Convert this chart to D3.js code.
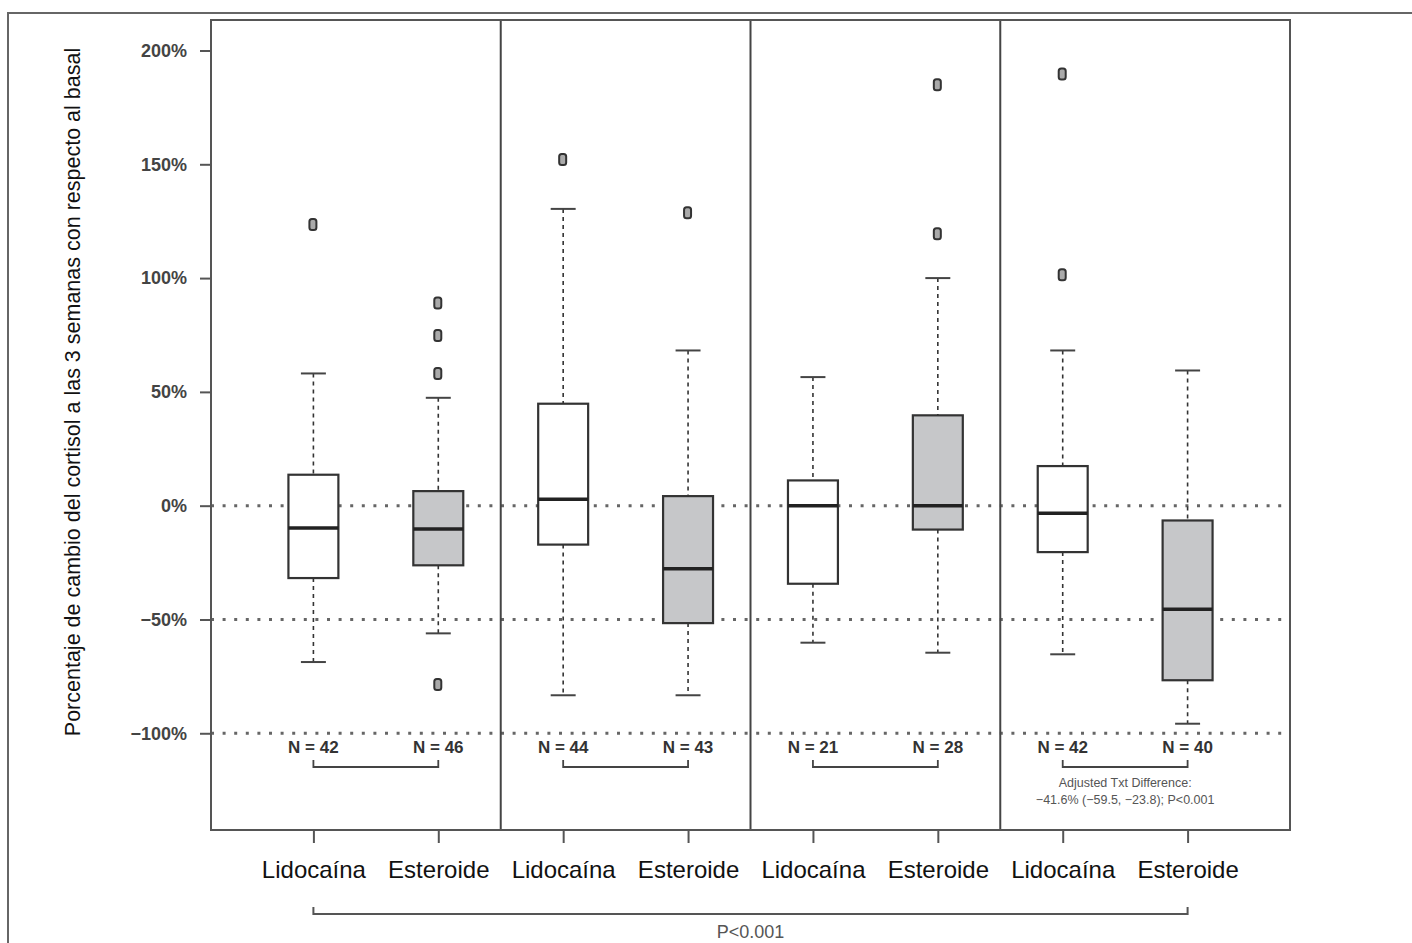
<!DOCTYPE html>
<html><head><meta charset="utf-8">
<script src="https://cdn.jsdelivr.net/npm/d3@7/dist/d3.min.js"></script>
<style>
html,body{margin:0;padding:0;background:#fff;}
svg{display:block;font-family:"Liberation Sans",Arial,Helvetica,sans-serif;}
</style></head>
<body>
<svg id="chart" width="1412" height="943"></svg>
<script>
// ---- data ----
const categories = ["Lidocaína","Esteroide","Lidocaína","Esteroide","Lidocaína","Esteroide","Lidocaína","Esteroide"];
const nLabels = ["N = 42","N = 46","N = 44","N = 43","N = 21","N = 28","N = 42","N = 40"];
const whiskerLow  = [-68.7, -56.1, -83.3, -83.3, -60.2, -64.6, -65.3, -95.8];
const q1          = [-31.8, -26.2, -17.1, -51.6, -34.3, -10.5, -20.4, -76.7];
const median      = [ -9.8, -10.3,   2.8, -27.7,   0.0,   0.0,  -3.3, -45.5];
const q3          = [ 13.6,   6.4,  44.8,   4.2,  11.1,  39.7,  17.4,  -6.5];
const whiskerHigh = [ 58.1,  47.4, 130.4,  68.2,  56.5, 100.0,  68.2,  59.4];
const outliers    = [[123.5],[89.0,74.8,58.1,-78.6],[152.1],[128.7],[],[184.9,119.5],[189.7,101.5],[]];
const treatment   = ["lido","est","lido","est","lido","est","lido","est"];
const yTicks = [-100,-50,0,50,100,150,200];
const refLines = [0,-50,-100];
const panelDividers = [2.5,4.5,6.5];
const yTitle = "Porcentaje de cambio del cortisol a las 3 semanas con respecto al basal";
const annotation = ["Adjusted Txt Difference:", "\u221241.6% (\u221259.5, \u221223.8); P<0.001"];
const overallP = "P<0.001";

// ---- layout ----
const svg = d3.select("#chart");
const L = 211, R = 1290, T = 20, B = 830;
const x = d3.scaleLinear().domain([0.18, 8.82]).range([L, R]);
const y = d3.scaleLinear().domain([-142.5, 213.4]).range([B, T]);
const pos = categories.map((d,i)=>i+1);
const boxW = x(1.4)-x(1);   // 0.8 units
const capW = x(1.2)-x(1);   // 0.4 units
const fmtPct = d => (d<0 ? "\u2212"+Math.abs(d) : d) + "%";

// outer frame (left + top)
svg.append("path").attr("d","M8,943 L8,13 L1412,13").attr("fill","none").attr("stroke","#666").attr("stroke-width",2);

// reference dotted lines
svg.append("g").selectAll("line").data(refLines).join("line")
  .attr("x1",L).attr("x2",R).attr("y1",d=>y(d)).attr("y2",d=>y(d))
  .attr("stroke","#666").attr("stroke-width",3).attr("stroke-dasharray","3,8.6");

// panel dividers
svg.append("g").selectAll("line").data(panelDividers).join("line")
  .attr("x1",d=>x(d)).attr("x2",d=>x(d)).attr("y1",T).attr("y2",B)
  .attr("stroke","#444").attr("stroke-width",2);

// boxes
const g = svg.append("g").selectAll("g").data(pos).join("g");
g.append("line").attr("x1",d=>x(d)).attr("x2",d=>x(d))
  .attr("y1",(d,i)=>y(whiskerHigh[i])).attr("y2",(d,i)=>y(q3[i]))
  .attr("stroke","#333").attr("stroke-width",1.6).attr("stroke-dasharray","4,4");
g.append("line").attr("x1",d=>x(d)).attr("x2",d=>x(d))
  .attr("y1",(d,i)=>y(q1[i])).attr("y2",(d,i)=>y(whiskerLow[i]))
  .attr("stroke","#333").attr("stroke-width",1.6).attr("stroke-dasharray","4,4");
g.append("line").attr("x1",d=>x(d)-capW/2).attr("x2",d=>x(d)+capW/2)
  .attr("y1",(d,i)=>y(whiskerHigh[i])).attr("y2",(d,i)=>y(whiskerHigh[i]))
  .attr("stroke","#444").attr("stroke-width",2);
g.append("line").attr("x1",d=>x(d)-capW/2).attr("x2",d=>x(d)+capW/2)
  .attr("y1",(d,i)=>y(whiskerLow[i])).attr("y2",(d,i)=>y(whiskerLow[i]))
  .attr("stroke","#444").attr("stroke-width",2);
g.append("rect").attr("x",d=>x(d)-boxW/2).attr("width",boxW)
  .attr("y",(d,i)=>y(q3[i])).attr("height",(d,i)=>y(q1[i])-y(q3[i]))
  .attr("fill",(d,i)=>treatment[i]==="est"?"#c6c7c9":"#ffffff")
  .attr("stroke","#333").attr("stroke-width",2.2);
g.append("line").attr("x1",d=>x(d)-boxW/2).attr("x2",d=>x(d)+boxW/2)
  .attr("y1",(d,i)=>y(median[i])).attr("y2",(d,i)=>y(median[i]))
  .attr("stroke","#222").attr("stroke-width",3.5);
g.each(function(d,i){
  d3.select(this).selectAll("rect.out").data(outliers[i]).join("rect").attr("class","out")
    .attr("x",x(d)-4).attr("y",v=>y(v)-5.5).attr("width",7).attr("height",11).attr("rx",2.5)
    .attr("fill","#aaa").attr("stroke","#333").attr("stroke-width",2);
});

// plot frame
svg.append("rect").attr("x",L).attr("y",T).attr("width",R-L).attr("height",B-T)
  .attr("fill","none").attr("stroke","#555").attr("stroke-width",2);

// y axis
const yAxis = d3.axisLeft(y).tickValues(yTicks).tickSize(11).tickPadding(13).tickFormat(fmtPct);
const ya = svg.append("g").attr("transform",`translate(${L},0)`).call(yAxis);
ya.select(".domain").remove();
ya.selectAll(".tick line").attr("stroke","#555").attr("stroke-width",2);
ya.selectAll(".tick text").attr("fill","#444").attr("font-size",18).attr("font-weight","bold")
  .attr("font-family","'Liberation Sans',Arial,sans-serif");

// x axis
const xAxis = d3.axisBottom(x).tickValues(pos).tickSize(13).tickPadding(18).tickFormat((d,i)=>categories[i]);
const xa = svg.append("g").attr("transform",`translate(0,${B})`).call(xAxis);
xa.select(".domain").remove();
xa.selectAll(".tick line").attr("stroke","#555").attr("stroke-width",2);
xa.selectAll(".tick text").attr("fill","#111").attr("font-size",24)
  .attr("font-family","'Liberation Sans',Arial,sans-serif");

// N labels
svg.append("g").selectAll("text").data(pos).join("text")
  .attr("x",d=>x(d)).attr("y",y(-100)+20).attr("text-anchor","middle")
  .attr("font-size",17).attr("font-weight","bold").attr("fill","#333")
  .text((d,i)=>nLabels[i]);

// pair brackets
const pairs = [[1,2],[3,4],[5,6],[7,8]];
svg.append("g").selectAll("path").data(pairs).join("path")
  .attr("d",p=>`M${x(p[0])},760 L${x(p[0])},767 L${x(p[1])},767 L${x(p[1])},760`)
  .attr("fill","none").attr("stroke","#444").attr("stroke-width",1.8);

// annotation in panel 4
svg.append("g").selectAll("text").data(annotation).join("text")
  .attr("x",(x(7)+x(8))/2).attr("y",(d,i)=>787+i*17).attr("text-anchor","middle")
  .attr("font-size",12.5).attr("fill","#555").text(d=>d);

// overall bracket
svg.append("path")
  .attr("d",`M${x(1)},907 L${x(1)},914 L${x(8)},914 L${x(8)},907`)
  .attr("fill","none").attr("stroke","#555").attr("stroke-width",2);
svg.append("text").attr("x",(x(1)+x(8))/2).attr("y",938).attr("text-anchor","middle")
  .attr("font-size",18).attr("fill","#555").text(overallP);

// y title
svg.append("text").attr("transform",`translate(80,392) rotate(-90)`)
  .attr("text-anchor","middle").attr("font-size",21.5).attr("fill","#111").text(yTitle);
</script>
</body></html>
